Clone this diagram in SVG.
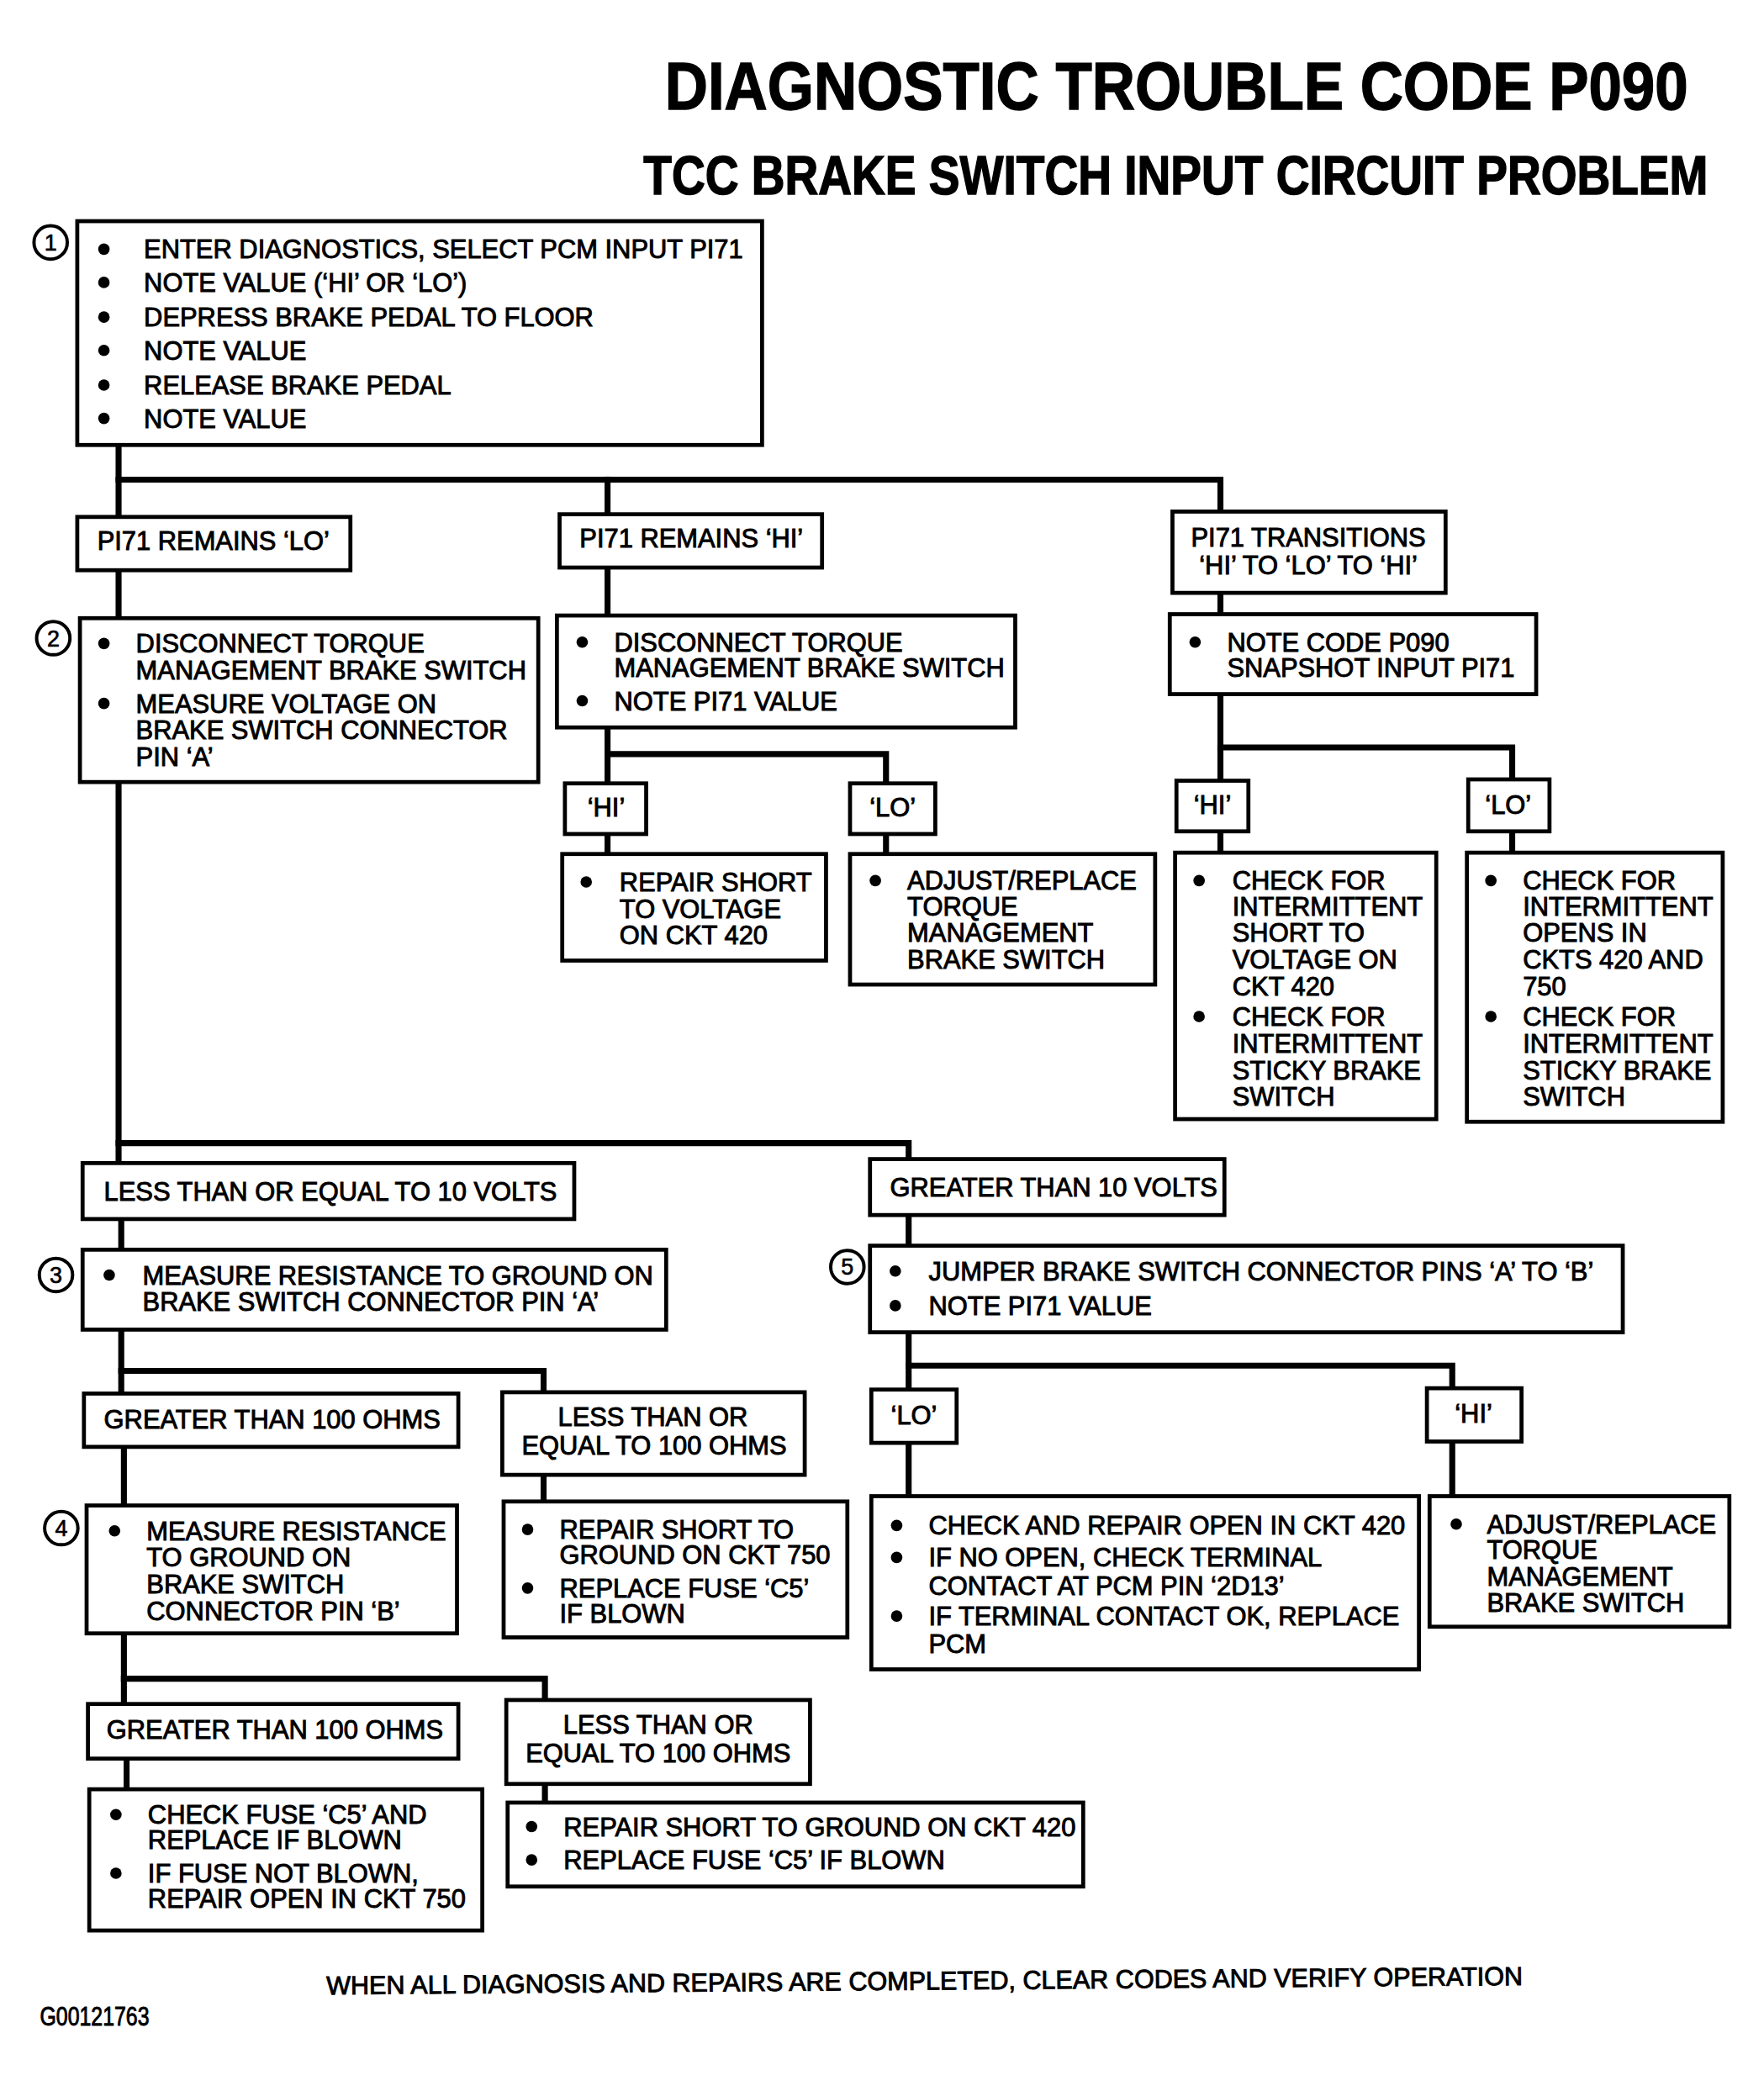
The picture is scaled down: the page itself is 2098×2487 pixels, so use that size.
<svg xmlns="http://www.w3.org/2000/svg" width="2098" height="2487" viewBox="0 0 2098 2487">
<style>
.box{fill:#fff;stroke:#000;stroke-width:3}
.conn{fill:none;stroke:#000;stroke-width:4.5;stroke-linecap:square}
.t{font-family:"Liberation Sans",Arial,sans-serif;font-size:19.5px;fill:#000;stroke:#000;stroke-width:0.6}
.c{text-anchor:middle}
.h{font-family:"Liberation Sans",Arial,sans-serif;font-weight:bold;fill:#000;stroke:#000;stroke-width:0.8}
.b{fill:#000}
.num{fill:#fff;stroke:#000;stroke-width:2.5}
.nt{font-family:"Liberation Sans",Arial,sans-serif;font-size:17px;text-anchor:middle;fill:#000;stroke:#000;stroke-width:0.4}
</style>
<rect width="2098" height="2487" fill="#fff"/>
<g transform="scale(1.5846)">
<text class="h" x="0" y="0" font-size="45" textLength="768" lengthAdjust="spacingAndGlyphs" transform="translate(499,82) scale(1,1.12)">DIAGNOSTIC TROUBLE CODE P090</text>
<text class="h" x="0" y="0" font-size="34.7" textLength="799" lengthAdjust="spacingAndGlyphs" transform="translate(483,146) scale(1,1.17)">TCC BRAKE SWITCH INPUT CIRCUIT PROBLEM</text>

<g id="connectors">
<path class="conn" d="M89,334 V388"/>
<path class="conn" d="M89,360 H916 V384"/>
<path class="conn" d="M456,360 V386"/>
<path class="conn" d="M89,428 V464"/>
<path class="conn" d="M456,426 V462"/>
<path class="conn" d="M916,445 V461"/>
<path class="conn" d="M456,546 V588"/>
<path class="conn" d="M456,566 H665 V588"/>
<path class="conn" d="M456,626 V641"/>
<path class="conn" d="M665,626 V641"/>
<path class="conn" d="M916,521 V586"/>
<path class="conn" d="M916,561 H1135 V585"/>
<path class="conn" d="M916,624 V640"/>
<path class="conn" d="M1135,624 V640"/>
<path class="conn" d="M89,587 V873"/>
<path class="conn" d="M89,858 H682 V870"/>
<path class="conn" d="M91,915 V938"/>
<path class="conn" d="M682,912 V935"/>
<path class="conn" d="M91,998 V1046"/>
<path class="conn" d="M91,1029 H408 V1045"/>
<path class="conn" d="M93,1086 V1130"/>
<path class="conn" d="M408,1107 V1127"/>
<path class="conn" d="M682,1000 V1043"/>
<path class="conn" d="M682,1025 H1090 V1042"/>
<path class="conn" d="M682,1083 V1123"/>
<path class="conn" d="M1090,1082 V1123"/>
<path class="conn" d="M93,1226 V1279"/>
<path class="conn" d="M93,1260 H409 V1276"/>
<path class="conn" d="M95,1320 V1343"/>
<path class="conn" d="M409,1339 V1353"/>
</g>

<g id="step1">
<circle class="num" cx="38" cy="182" r="12.5"/><text class="nt" x="38" y="188">1</text>
<rect class="box" x="58" y="166" width="514" height="168"/>
<circle class="b" cx="78" cy="187" r="4.3"/><text class="t" x="108" y="194">ENTER DIAGNOSTICS, SELECT PCM INPUT PI71</text>
<circle class="b" cx="78" cy="212" r="4.3"/><text class="t" x="108" y="219">NOTE VALUE (‘HI’ OR ‘LO’)</text>
<circle class="b" cx="78" cy="238" r="4.3"/><text class="t" x="108" y="245">DEPRESS BRAKE PEDAL TO FLOOR</text>
<circle class="b" cx="78" cy="263" r="4.3"/><text class="t" x="108" y="270">NOTE VALUE</text>
<circle class="b" cx="78" cy="289" r="4.3"/><text class="t" x="108" y="296">RELEASE BRAKE PEDAL</text>
<circle class="b" cx="78" cy="314" r="4.3"/><text class="t" x="108" y="321">NOTE VALUE</text>
</g>

<g id="remains-lo"><rect class="box" x="58" y="388" width="205" height="40"/><text class="t" x="73" y="413">PI71 REMAINS ‘LO’</text></g>
<g id="remains-hi"><rect class="box" x="420" y="386" width="197" height="40"/><text class="t" x="435" y="411">PI71 REMAINS ‘HI’</text></g>
<g id="transitions"><rect class="box" x="880" y="384" width="205" height="61"/><text class="t c" x="982" y="410">PI71 TRANSITIONS</text><text class="t c" x="982" y="431">‘HI’ TO ‘LO’ TO ‘HI’</text></g>

<g id="step2">
<circle class="num" cx="40" cy="479" r="12.5"/><text class="nt" x="40" y="485">2</text>
<rect class="box" x="60" y="464" width="344" height="123"/>
<circle class="b" cx="78" cy="483" r="4.3"/><text class="t" x="102" y="490">DISCONNECT TORQUE</text>
<text class="t" x="102" y="510">MANAGEMENT BRAKE SWITCH</text>
<circle class="b" cx="78" cy="528" r="4.3"/><text class="t" x="102" y="535">MEASURE VOLTAGE ON</text>
<text class="t" x="102" y="555">BRAKE SWITCH CONNECTOR</text>
<text class="t" x="102" y="575">PIN ‘A’</text>
</g>

<g id="hi-disconnect">
<rect class="box" x="418" y="462" width="344" height="84"/>
<circle class="b" cx="437" cy="482" r="4.3"/><text class="t" x="461" y="489">DISCONNECT TORQUE</text>
<text class="t" x="461" y="508">MANAGEMENT BRAKE SWITCH</text>
<circle class="b" cx="437" cy="526" r="4.3"/><text class="t" x="461" y="533">NOTE PI71 VALUE</text>
</g>

<g id="note-code">
<rect class="box" x="878" y="461" width="275" height="60"/>
<circle class="b" cx="897" cy="482" r="4.3"/><text class="t" x="921" y="489">NOTE CODE P090</text>
<text class="t" x="921" y="508">SNAPSHOT INPUT PI71</text>
</g>

<g id="hi-a"><rect class="box" x="424" y="588" width="61" height="38"/><text class="t c" x="455" y="613">‘HI’</text></g>
<g id="lo-a"><rect class="box" x="638" y="588" width="64" height="38"/><text class="t c" x="670" y="613">‘LO’</text></g>
<g id="hi-b"><rect class="box" x="883" y="586" width="54" height="38"/><text class="t c" x="910" y="611">‘HI’</text></g>
<g id="lo-b"><rect class="box" x="1102" y="585" width="61" height="39"/><text class="t c" x="1132" y="611">‘LO’</text></g>

<g id="repair-short-voltage">
<rect class="box" x="422" y="641" width="198" height="80"/>
<circle class="b" cx="440" cy="662" r="4.3"/><text class="t" x="465" y="669">REPAIR SHORT</text>
<text class="t" x="465" y="689">TO VOLTAGE</text>
<text class="t" x="465" y="709">ON CKT 420</text>
</g>

<g id="adjust-replace-1">
<rect class="box" x="638" y="641" width="229" height="98"/>
<circle class="b" cx="657" cy="661" r="4.3"/><text class="t" x="681" y="668">ADJUST/REPLACE</text>
<text class="t" x="681" y="687">TORQUE</text>
<text class="t" x="681" y="707">MANAGEMENT</text>
<text class="t" x="681" y="727">BRAKE SWITCH</text>
</g>

<g id="check-short">
<rect class="box" x="882" y="640" width="196" height="200"/>
<circle class="b" cx="900" cy="661" r="4.3"/><text class="t" x="925" y="668">CHECK FOR</text>
<text class="t" x="925" y="687">INTERMITTENT</text>
<text class="t" x="925" y="707">SHORT TO</text>
<text class="t" x="925" y="727">VOLTAGE ON</text>
<text class="t" x="925" y="747">CKT 420</text>
<circle class="b" cx="900" cy="763" r="4.3"/><text class="t" x="925" y="770">CHECK FOR</text>
<text class="t" x="925" y="790">INTERMITTENT</text>
<text class="t" x="925" y="810">STICKY BRAKE</text>
<text class="t" x="925" y="830">SWITCH</text>
</g>

<g id="check-opens">
<rect class="box" x="1101" y="640" width="192" height="202"/>
<circle class="b" cx="1119" cy="661" r="4.3"/><text class="t" x="1143" y="668">CHECK FOR</text>
<text class="t" x="1143" y="687">INTERMITTENT</text>
<text class="t" x="1143" y="707">OPENS IN</text>
<text class="t" x="1143" y="727">CKTS 420 AND</text>
<text class="t" x="1143" y="747">750</text>
<circle class="b" cx="1119" cy="763" r="4.3"/><text class="t" x="1143" y="770">CHECK FOR</text>
<text class="t" x="1143" y="790">INTERMITTENT</text>
<text class="t" x="1143" y="810">STICKY BRAKE</text>
<text class="t" x="1143" y="830">SWITCH</text>
</g>

<g id="le-10v"><rect class="box" x="62" y="873" width="369" height="42"/><text class="t" x="78" y="901">LESS THAN OR EQUAL TO 10 VOLTS</text></g>
<g id="gt-10v"><rect class="box" x="653" y="870" width="266" height="42"/><text class="t" x="668" y="898">GREATER THAN 10 VOLTS</text></g>

<g id="step3">
<circle class="num" cx="42" cy="957" r="12.5"/><text class="nt" x="42" y="963">3</text>
<rect class="box" x="62" y="938" width="438" height="60"/>
<circle class="b" cx="82" cy="957" r="4.3"/><text class="t" x="107" y="964">MEASURE RESISTANCE TO GROUND ON</text>
<text class="t" x="107" y="984">BRAKE SWITCH CONNECTOR PIN ‘A’</text>
</g>

<g id="step5">
<circle class="num" cx="636" cy="951" r="12.5"/><text class="nt" x="636" y="957">5</text>
<rect class="box" x="653" y="935" width="565" height="65"/>
<circle class="b" cx="672" cy="954" r="4.3"/><text class="t" x="697" y="961">JUMPER BRAKE SWITCH CONNECTOR PINS ‘A’ TO ‘B’</text>
<circle class="b" cx="672" cy="980" r="4.3"/><text class="t" x="697" y="987">NOTE PI71 VALUE</text>
</g>

<g id="gt-100-a"><rect class="box" x="63" y="1046" width="281" height="40"/><text class="t" x="78" y="1072">GREATER THAN 100 OHMS</text></g>
<g id="le-100-a"><rect class="box" x="377" y="1045" width="227" height="62"/><text class="t c" x="490" y="1070">LESS THAN OR</text><text class="t c" x="491" y="1092">EQUAL TO 100 OHMS</text></g>

<g id="step4">
<circle class="num" cx="46" cy="1147" r="12.5"/><text class="nt" x="46" y="1153">4</text>
<rect class="box" x="65" y="1130" width="278" height="96"/>
<circle class="b" cx="86" cy="1149" r="4.3"/><text class="t" x="110" y="1156">MEASURE RESISTANCE</text>
<text class="t" x="110" y="1176">TO GROUND ON</text>
<text class="t" x="110" y="1196">BRAKE SWITCH</text>
<text class="t" x="110" y="1216">CONNECTOR PIN ‘B’</text>
</g>

<g id="repair-ground-750">
<rect class="box" x="378" y="1127" width="258" height="102"/>
<circle class="b" cx="396" cy="1148" r="4.3"/><text class="t" x="420" y="1155">REPAIR SHORT TO</text>
<text class="t" x="420" y="1174">GROUND ON CKT 750</text>
<circle class="b" cx="396" cy="1192" r="4.3"/><text class="t" x="420" y="1199">REPLACE FUSE ‘C5’</text>
<text class="t" x="420" y="1218">IF BLOWN</text>
</g>

<g id="lo-c"><rect class="box" x="654" y="1043" width="64" height="40"/><text class="t c" x="686" y="1069">‘LO’</text></g>
<g id="hi-c"><rect class="box" x="1071" y="1042" width="71" height="40"/><text class="t c" x="1106" y="1068">‘HI’</text></g>

<g id="check-open-420">
<rect class="box" x="654" y="1123" width="411" height="130"/>
<circle class="b" cx="673" cy="1145" r="4.3"/><text class="t" x="697" y="1152">CHECK AND REPAIR OPEN IN CKT 420</text>
<circle class="b" cx="673" cy="1169" r="4.3"/><text class="t" x="697" y="1176">IF NO OPEN, CHECK TERMINAL</text>
<text class="t" x="697" y="1197">CONTACT AT PCM PIN ‘2D13’</text>
<circle class="b" cx="673" cy="1213" r="4.3"/><text class="t" x="697" y="1220">IF TERMINAL CONTACT OK, REPLACE</text>
<text class="t" x="697" y="1241">PCM</text>
</g>

<g id="adjust-replace-2">
<rect class="box" x="1073" y="1123" width="225" height="98"/>
<circle class="b" cx="1093" cy="1144" r="4.3"/><text class="t" x="1116" y="1151">ADJUST/REPLACE</text>
<text class="t" x="1116" y="1170">TORQUE</text>
<text class="t" x="1116" y="1190">MANAGEMENT</text>
<text class="t" x="1116" y="1210">BRAKE SWITCH</text>
</g>

<g id="gt-100-b"><rect class="box" x="66" y="1279" width="278" height="41"/><text class="t" x="80" y="1305">GREATER THAN 100 OHMS</text></g>
<g id="le-100-b"><rect class="box" x="380" y="1276" width="228" height="63"/><text class="t c" x="494" y="1301">LESS THAN OR</text><text class="t c" x="494" y="1323">EQUAL TO 100 OHMS</text></g>

<g id="check-fuse">
<rect class="box" x="67" y="1343" width="295" height="106"/>
<circle class="b" cx="87" cy="1362" r="4.3"/><text class="t" x="111" y="1369">CHECK FUSE ‘C5’ AND</text>
<text class="t" x="111" y="1388">REPLACE IF BLOWN</text>
<circle class="b" cx="87" cy="1406" r="4.3"/><text class="t" x="111" y="1413">IF FUSE NOT BLOWN,</text>
<text class="t" x="111" y="1432">REPAIR OPEN IN CKT 750</text>
</g>

<g id="repair-ground-420">
<rect class="box" x="381" y="1353" width="432" height="63"/>
<circle class="b" cx="399" cy="1371" r="4.3"/><text class="t" x="423" y="1378">REPAIR SHORT TO GROUND ON CKT 420</text>
<circle class="b" cx="399" cy="1396" r="4.3"/><text class="t" x="423" y="1403">REPLACE FUSE ‘C5’ IF BLOWN</text>
</g>

<text class="t" x="245" y="1497" font-size="21" textLength="898" lengthAdjust="spacingAndGlyphs" transform="rotate(-0.45 245 1497)">WHEN ALL DIAGNOSIS AND REPAIRS ARE COMPLETED, CLEAR CODES AND VERIFY OPERATION</text>
<text class="t" x="30" y="1520" font-size="15" stroke-width="0.2" textLength="82" lengthAdjust="spacingAndGlyphs">G00121763</text>
</g>
</svg>
